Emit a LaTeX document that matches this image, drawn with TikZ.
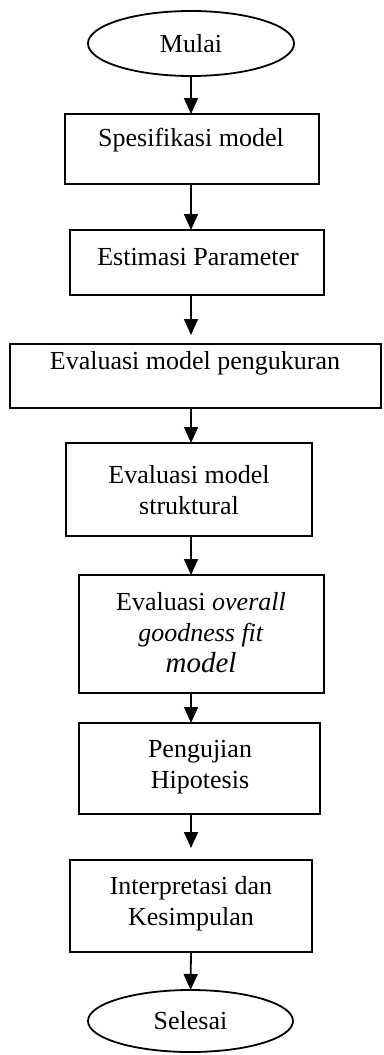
\documentclass[tikz,border=0pt]{standalone}
\usepackage{fontspec}
\setmainfont{Liberation Serif}
\usetikzlibrary{shapes.geometric,arrows.meta}
\begin{document}
\begin{tikzpicture}[x=1pt,y=-1pt,
  every node/.style={inner sep=0pt, outer sep=0pt},
  boxshape/.style={draw, line width=1.8pt, rectangle},
  termshape/.style={draw, line width=1.8pt, ellipse, font=\fontsize{26}{31}\selectfont},
  lbl/.style={font=\fontsize{26}{31}\selectfont, align=center},
  arr/.style={line width=1.8pt, -{Triangle[length=16pt,width=14pt]}}]
\useasboundingbox (0,0) rectangle (383,1055);
% terminals
\node[termshape, minimum width=206pt, minimum height=65pt] (mulai) at (191,43.5) {Mulai};
\node[termshape, minimum width=205pt, minimum height=62pt] (selesai) at (190.5,1021) {Selesai};
% boxes
\node[boxshape, minimum width=254pt, minimum height=70pt] (b1) at (192,149) {};
\node[lbl] (t1) at (191,140) {Spesifikasi model};
\node[boxshape, minimum width=254pt, minimum height=65pt] (b2) at (197,262.5) {};
\node[lbl] (t2) at (198,257) {Estimasi Parameter};
\node[boxshape, minimum width=371pt, minimum height=64pt] (b3) at (195.5,376) {};
\node[lbl] (t3) at (195,363) {Evaluasi model pengukuran};
\node[boxshape, minimum width=246pt, minimum height=93pt] (b4) at (189,489.5) {};
\node[lbl] (t4) at (189,490) {Evaluasi model\\struktural};
\node[boxshape, minimum width=245pt, minimum height=118pt] (b5) at (201.5,634) {};
\node[lbl] (t5) at (201,633) {Evaluasi \textit{overall}\\\textit{goodness fit}\\{\fontsize{29}{31}\selectfont\textit{model}}};
\node[boxshape, minimum width=241pt, minimum height=91pt] (b6) at (199.5,768.5) {};
\node[lbl] (t6) at (200,767) {Pengujian\\Hipotesis};
\node[boxshape, minimum width=242pt, minimum height=92pt] (b7) at (191,906) {};
\node[lbl] (t7) at (191,903.5) {Interpretasi dan\\Kesimpulan};
% connectors
\draw[arr] (mulai.south) -- (b1.north -| mulai.south);
\draw[arr] (b1.south -| mulai.south) -- (b2.north -| mulai.south);
\draw[arr, shorten >=9pt] (b2.south -| mulai.south) -- (b3.north -| mulai.south);
\draw[arr] (b3.south -| mulai.south) -- (b4.north -| mulai.south);
\draw[arr] (b4.south -| mulai.south) -- (b5.north -| mulai.south);
\draw[arr] (b5.south -| mulai.south) -- (b6.north -| mulai.south);
\draw[arr, shorten >=12pt] (b6.south -| mulai.south) -- (b7.north -| mulai.south);
\draw[arr] (b7.south -| mulai.south) -- (selesai.north);
\end{tikzpicture}
\end{document}
